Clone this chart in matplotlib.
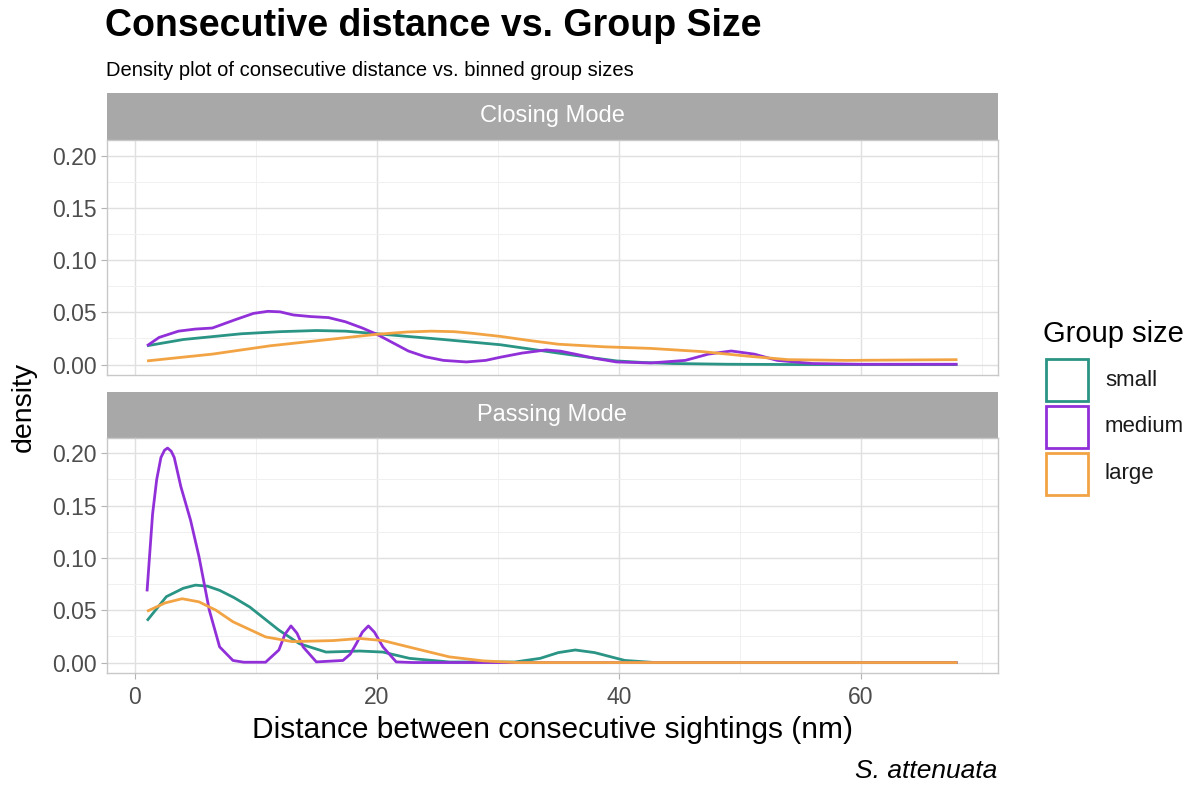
import matplotlib
matplotlib.use("Agg")
import matplotlib.pyplot as plt
from matplotlib.patches import Rectangle

plt.rcParams['font.family'] = ['Liberation Sans', 'DejaVu Sans']

# densities: Closing Mode
close_small_x = [1, 4, 8.8, 12, 15, 17.4, 20, 25.5, 30.2, 35, 37.5, 39.8, 42, 44.5, 49, 55, 68]
close_small_y = [0.018, 0.024, 0.0295, 0.0315, 0.0326, 0.032, 0.0295, 0.024, 0.019, 0.011, 0.007, 0.0035, 0.002,
                 0.001, 0.0003, 0.0, 0.0]
close_medium_x = [1, 2, 3.6, 5, 6.4, 8.3, 9.8, 11, 12, 13.1, 14.5, 16, 17.4, 18.8, 20, 21.3, 22.6, 24, 25.5, 27.4, 29,
                  30.2, 32, 34, 35.2, 36.4, 38, 39.8, 42.6, 45.5, 47.4, 49.3, 51.2, 53.1, 56, 60, 68]
close_medium_y = [0.018, 0.026, 0.032, 0.034, 0.035, 0.043, 0.049, 0.051, 0.0505, 0.0475, 0.046, 0.045, 0.041, 0.035,
                  0.029, 0.021, 0.013, 0.0075, 0.004, 0.0025, 0.004, 0.007, 0.011, 0.014, 0.0128, 0.010, 0.006,
                  0.0025, 0.0015, 0.004, 0.010, 0.013, 0.010, 0.004, 0.001, 0.0003, 0.0003]
close_large_x = [1, 6.4, 11.2, 16, 20, 22.5, 24.5, 26.4, 28, 30.2, 32.5, 35, 38.8, 42.6, 46.9, 50.7, 54, 58.8, 68]
close_large_y = [0.0035, 0.010, 0.018, 0.024, 0.029, 0.0312, 0.032, 0.0315, 0.0298, 0.027, 0.0232, 0.0195, 0.017,
                 0.0155, 0.0124, 0.008, 0.0047, 0.004, 0.0047]

# densities: Passing Mode
pass_small_x = [1, 2.6, 4, 5, 6, 7, 8.2, 9.5, 11.9, 13.6, 15.8, 18.6, 20.5, 22.7, 26, 31.4, 33.5, 35, 36.4, 38, 40.5,
                43, 68]
pass_small_y = [0.040, 0.063, 0.071, 0.074, 0.073, 0.069, 0.062, 0.053, 0.031, 0.018, 0.010, 0.011, 0.010, 0.004,
                0.0005, 0.0005, 0.004, 0.0095, 0.012, 0.0095, 0.002, 0.0, 0.0]
pass_medium_x = [1, 1.46, 1.8, 2.15, 2.45, 2.7, 3.0, 3.25, 3.8, 4.6, 5.3, 6.15, 7, 8.1, 9, 10.8, 11.9, 12.4, 12.9,
                 13.4, 13.9, 15, 17.2, 17.8, 18.3, 18.8, 19.3, 19.8, 20.5, 21.6, 23, 68]
pass_medium_y = [0.068, 0.142, 0.175, 0.196, 0.203, 0.205, 0.202, 0.196, 0.168, 0.136, 0.101, 0.050, 0.015, 0.002,
                 0.0003, 0.0003, 0.012, 0.027, 0.035, 0.028, 0.015, 0.0006, 0.002, 0.008, 0.018, 0.029, 0.035, 0.029,
                 0.015, 0.0006, 0.0, 0.0]
pass_large_x = [1, 2.5, 3.9, 5.3, 6.7, 8.1, 10.8, 13, 16.4, 18.6, 20.5, 23.3, 26, 28.8, 31.5, 68]
pass_large_y = [0.049, 0.057, 0.061, 0.058, 0.050, 0.039, 0.0245, 0.020, 0.021, 0.023, 0.021, 0.013, 0.0054, 0.0016,
                0.0, 0.0]

groups = ['small', 'medium', 'large']
colors = ['#2a9485', '#9130d9', '#f2a444']
panels = ['Closing Mode', 'Passing Mode']
y_ticks = [0.00, 0.05, 0.10, 0.15, 0.20]
x_ticks = [0, 20, 40, 60]

series = {
    'Closing Mode': [(close_small_x, close_small_y), (close_medium_x, close_medium_y), (close_large_x, close_large_y)],
    'Passing Mode': [(pass_small_x, pass_small_y), (pass_medium_x, pass_medium_y), (pass_large_x, pass_large_y)],
}

W, H = 1196, 786
fig = plt.figure(figsize=(W / 100, H / 100), dpi=100)


def fx(px):
    return px / W


def fy(py):
    return 1 - py / H


left, right = 106.5, 998
boxes = [(92.7, 140, 375), (392.3, 437.5, 673)]  # strip top, panel top, panel bottom

grid_major = '#e0e0e0'
grid_minor = '#f0f0f0'
border = '#c8c8c8'

for i, name in enumerate(panels):
    s_top, p_top, p_bot = boxes[i]
    # strip
    sax = fig.add_axes([fx(left), fy(p_top), fx(right - left), (p_top - s_top) / H])
    sax.set_facecolor('#a8a8a8')
    sax.set_xticks([])
    sax.set_yticks([])
    for sp in sax.spines.values():
        sp.set_visible(False)
    sax.text(0.5, 0.5, name, color='white', fontsize=17, ha='center', va='center', transform=sax.transAxes)

    ax = fig.add_axes([fx(left), fy(p_bot), fx(right - left), (p_bot - p_top) / H])
    ax.set_xlim(-2.35, 71.35)
    ax.set_ylim(-0.0100, 0.2151)
    ax.set_xticks(x_ticks)
    ax.set_xticks([10, 30, 50, 70], minor=True)
    ax.set_yticks(y_ticks)
    ax.set_yticks([0.025, 0.075, 0.125, 0.175], minor=True)
    ax.grid(True, which='major', color=grid_major, lw=1.0)
    ax.grid(True, which='minor', color=grid_minor, lw=0.7)
    ax.set_axisbelow(True)
    ax.tick_params(which='minor', length=0)
    ax.tick_params(which='major', length=4, width=0.8, color='#b3b3b3', labelcolor='#4d4d4d',
                   labelsize=16.5, pad=3)
    ax.tick_params(axis='x', pad=5)
    ax.yaxis.set_major_formatter(matplotlib.ticker.FormatStrFormatter('%.2f'))
    for sp in ax.spines.values():
        sp.set_color(border)
        sp.set_linewidth(1.0)
    if i == 0:
        ax.tick_params(axis='x', labelbottom=False, length=0)

    for (xs, ys), c in zip(series[name], colors):
        ax.plot(xs, ys, color=c, lw=2.0, solid_joinstyle='round', solid_capstyle='butt')

# texts
fig.text(fx(105), fy(36), 'Consecutive distance vs. Group Size', fontsize=27, fontweight='bold',
         ha='left', va='baseline')
fig.text(fx(106), fy(76), 'Density plot of consecutive distance vs. binned group sizes', fontsize=14.5,
         ha='left', va='baseline')
fig.text(fx(24), fy(406.5), 'density', fontsize=20.5, rotation=90, ha='center', va='center')
fig.text(fx((left + right) / 2), fy(730), 'Distance between consecutive sightings (nm)', fontsize=21.5,
         ha='center', va='center')
fig.text(fx(997), fy(771.5), 'S. attenuata', fontsize=19, style='italic', ha='right', va='center')

# legend
fig.text(fx(1043), fy(342), 'Group size', fontsize=21, ha='left', va='baseline')
key_tops = [359, 406, 453]
for top, g, c in zip(key_tops, groups, colors):
    fig.patches.append(Rectangle((fx(1046), fy(top + 42)), fx(42), 42 / H, transform=fig.transFigure,
                                 facecolor='white', edgecolor=c, lw=2.0))
    fig.text(fx(1105), fy(top + 21), g, fontsize=16, color='#1a1a1a', ha='left', va='center')

fig.savefig('out.png', dpi=100)
